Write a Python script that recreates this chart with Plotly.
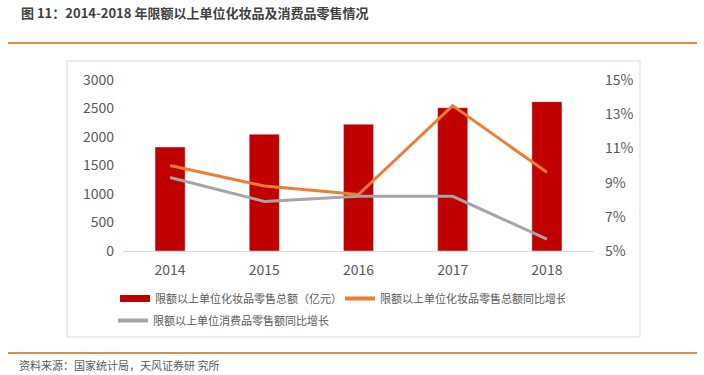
import plotly.graph_objects as go

W, H = 704, 375

years = ["2014", "2015", "2016", "2017", "2018"]
sales = [1825, 2050, 2225, 2515, 2620]          # 亿元
cosm_growth = [10.0, 8.8, 8.3, 13.5, 9.6]       # %
cons_growth = [9.3, 7.9, 8.2, 8.2, 5.7]         # %

name_bar = "限额以上单位化妆品零售总额（亿元）"
name_orange = "限额以上单位化妆品零售总额同比增长"
name_gray = "限额以上单位消费品零售额同比增长"

title = "图 11：2014-2018 年限额以上单位化妆品及消费品零售情况"
source = "资料来源：国家统计局，天风证券研 究所"

RED = "#C00000"
ORANGE = "#ED7D31"
GRAY = "#A5A5A5"
TXT = "#595959"
FONT = "Noto Sans CJK SC"


def px(x):
    return x / W


def py(y):
    return 1 - y / H


fig = go.Figure()
fig.add_trace(go.Bar(x=years, y=sales, name=name_bar, marker_color=RED,
                     width=0.32, showlegend=False, yaxis="y"))
fig.add_trace(go.Scatter(x=years, y=cosm_growth, name=name_orange, mode="lines",
                         line=dict(color=ORANGE, width=3), yaxis="y2", showlegend=False))
fig.add_trace(go.Scatter(x=years, y=cons_growth, name=name_gray, mode="lines",
                         line=dict(color=GRAY, width=3), yaxis="y2", showlegend=False))
# legend entries
fig.add_trace(go.Scatter(x=[None], y=[None], name=name_bar, mode="lines",
                         line=dict(color=RED, width=7), legend="legend"))
fig.add_trace(go.Scatter(x=[None], y=[None], name=name_orange, mode="lines",
                         line=dict(color=ORANGE, width=4), legend="legend"))
fig.add_trace(go.Scatter(x=[None], y=[None], name=name_gray, mode="lines",
                         line=dict(color=GRAY, width=4), legend="legend2"))

leg_common = dict(orientation="h", xref="container", yref="container",
                  xanchor="left", yanchor="top",
                  font=dict(size=11, color=TXT), entrywidth=180,
                  tracegroupgap=0, itemwidth=30, bgcolor="rgba(0,0,0,0)")

ydom = [py(251), py(80)]
fig.update_layout(
    width=W, height=H,
    margin=dict(l=0, r=0, t=0, b=0, autoexpand=False),
    paper_bgcolor="white", plot_bgcolor="white",
    font=dict(family=FONT, color=TXT, size=14),
    xaxis=dict(domain=[px(123), px(594)], showline=True, linecolor="#D9D9D9",
               linewidth=1, ticks="", showgrid=False, tickfont=dict(size=14),
               ticklabelstandoff=6, automargin=False),
    yaxis=dict(domain=ydom, range=[0, 3000], dtick=500, showgrid=False,
               zeroline=False, ticks="", tickfont=dict(size=14),
               ticklabelstandoff=8, automargin=False),
    yaxis2=dict(domain=ydom, range=[5, 15], tick0=5, dtick=2, overlaying="y",
                side="right", anchor="x", showgrid=False, zeroline=False,
                ticks="", ticksuffix="%", tickfont=dict(size=14),
                ticklabelstandoff=10, automargin=False),
    legend=dict(x=px(115), y=py(284), **leg_common),
    legend2=dict(x=px(113), y=py(306), **leg_common),
    showlegend=True,
    shapes=[
        dict(type="rect", xref="paper", yref="paper", x0=px(67), x1=px(640),
             y0=py(337), y1=py(61), line=dict(color="#D9D9D9", width=1)),
        dict(type="line", xref="paper", yref="paper", x0=px(8), x1=px(697),
             y0=py(43), y1=py(43), line=dict(color="#E8893C", width=2)),
        dict(type="line", xref="paper", yref="paper", x0=px(8), x1=px(697),
             y0=py(353), y1=py(353), line=dict(color="#D9914A", width=2)),
    ],
    annotations=[
        dict(text="<b>" + title + "</b>", xref="paper", yref="paper",
             x=px(19), y=py(13), xanchor="left", yanchor="middle",
             showarrow=False, font=dict(size=13, color="#404040")),
        dict(text=source, xref="paper", yref="paper", x=px(17), y=py(365),
             xanchor="left", yanchor="middle", showarrow=False,
             font=dict(size=11, color=TXT)),
    ],
)

fig.write_html("out.html", config={"displayModeBar": False},
               post_script="document.body.style.margin='0px';"
                           "document.body.style.overflow='hidden';")
